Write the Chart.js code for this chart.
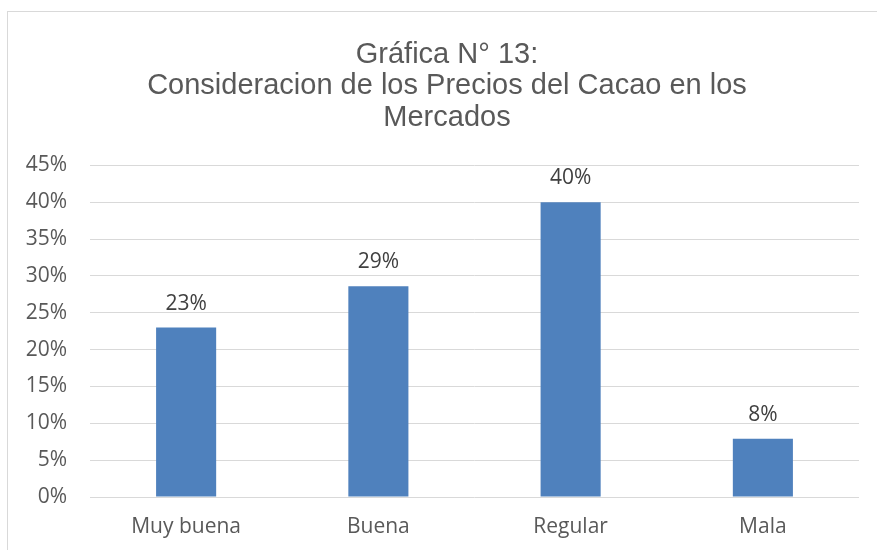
<!DOCTYPE html>
<html>
<head>
<meta charset="utf-8">
<script src="https://cdn.jsdelivr.net/npm/chart.js@4/dist/chart.umd.min.js"></script>
<style>
  html, body { margin: 0; padding: 0; background: #ffffff; }
  #wrap { position: relative; width: 877px; height: 550px; }
</style>
</head>
<body>
<div id="wrap"><canvas id="c" width="877" height="550"></canvas></div>
<script>
const titleLines = ["Gráfica N° 13:", "Consideracion de los Precios del Cacao en los", "Mercados"];
const categories = ["Muy buena", "Buena", "Regular", "Mala"];
const values = [0.23, 0.286, 0.40, 0.079];
const yTicks = [0, 0.05, 0.10, 0.15, 0.20, 0.25, 0.30, 0.35, 0.40, 0.45];

const pct = v => Math.round(v * 100) + '%';

const frame = {
  id: 'frame',
  beforeDraw(chart) {
    const ctx = chart.ctx;
    ctx.save();
    ctx.fillStyle = '#ffffff';
    ctx.fillRect(0, 0, chart.width, chart.height);
    ctx.strokeStyle = '#d9d9d9';
    ctx.lineWidth = 1;
    ctx.strokeRect(7.5, 11.5, chart.width + 10, chart.height + 10);
    ctx.restore();
  }
};

// Centre the title over the bordered chart frame (which starts at x=7)
const titleShift = {
  id: 'titleShift',
  afterLayout(chart) {
    const t = chart.titleBlock;
    if (t) { t.left += 8.5; t.right += 8.5; }
  }
};

const labels = {
  id: 'labels',
  afterDatasetsDraw(chart) {
    const ctx = chart.ctx;
    const meta = chart.getDatasetMeta(0);
    ctx.save();
    ctx.font = '21px "Open Sans"';
    ctx.fillStyle = '#404040';
    ctx.textAlign = 'center';
    ctx.textBaseline = 'alphabetic';
    meta.data.forEach((bar, i) => {
      ctx.fillText(pct(values[i]), bar.x, bar.y - 18);
    });
    ctx.restore();
  }
};

new Chart(document.getElementById('c'), {
  type: 'bar',
  data: {
    labels: categories,
    datasets: [{
      data: values,
      backgroundColor: '#4f81bd',
      borderWidth: 0,
      categoryPercentage: 1,
      barPercentage: 0.3125
    }]
  },
  options: {
    responsive: false,
    animation: false,
    devicePixelRatio: 1,
    layout: { padding: { left: 18, right: 18, top: 0, bottom: 0 } },
    plugins: {
      legend: { display: false },
      tooltip: { enabled: false },
      title: {
        display: true,
        text: titleLines,
        color: '#595959',
        font: { family: '"Liberation Sans", Arial, sans-serif', size: 29, weight: 'normal', lineHeight: 1.086 },
        padding: { top: 39, bottom: 32 }
      }
    },
    scales: {
      x: {
        grid: { display: false, drawTicks: false },
        border: { display: false },
        ticks: {
          color: '#595959',
          font: { family: '"Open Sans"', size: 21 },
          padding: 17,
          maxRotation: 0
        },
        afterFit(scale) { scale.height = 53; }
      },
      y: {
        min: 0,
        max: 0.45,
        afterBuildTicks(scale) { scale.ticks = yTicks.map(v => ({ value: v })); },
        grid: { color: '#d9d9d9', lineWidth: 1, drawTicks: false },
        border: { display: false },
        ticks: {
          color: '#595959',
          font: { family: '"Open Sans"', size: 21 },
          padding: 23,
          callback: v => pct(v)
        },
        afterFit(scale) { scale.width = 72; }
      }
    }
  },
  plugins: [frame, titleShift, labels]
});
</script>
</body>
</html>
